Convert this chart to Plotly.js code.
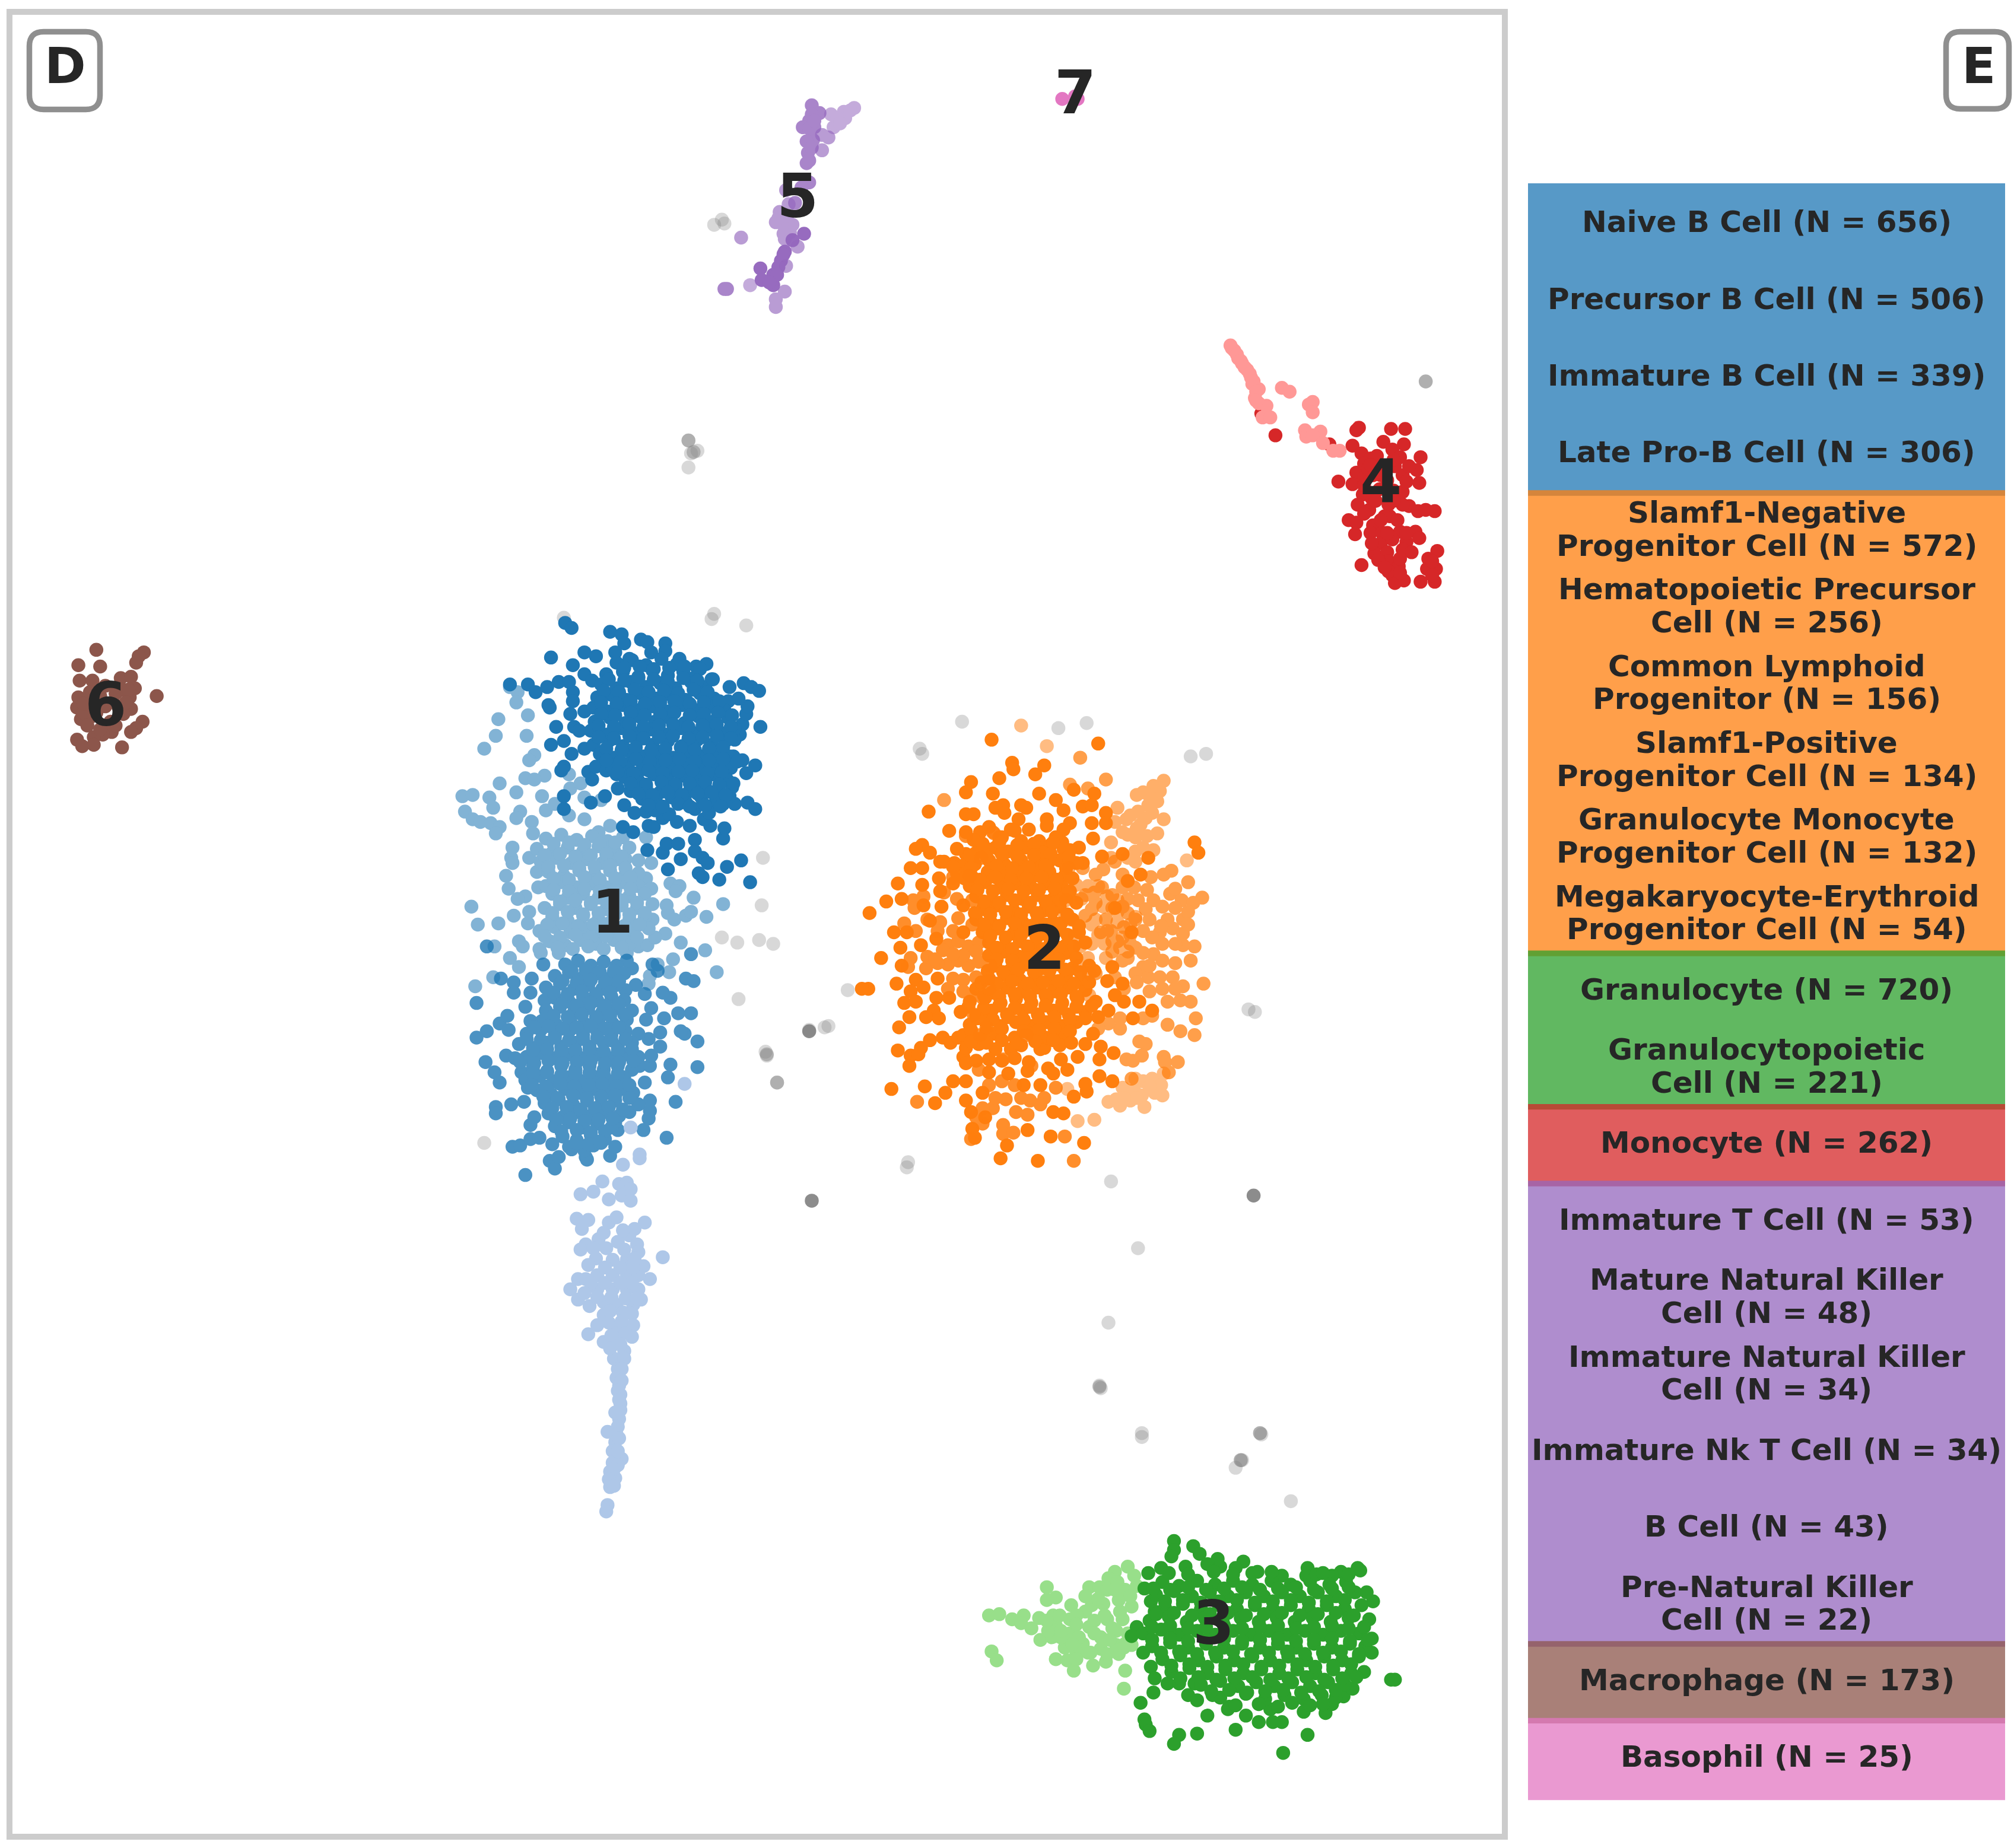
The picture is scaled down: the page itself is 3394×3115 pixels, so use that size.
<!DOCTYPE html>
<html><head><meta charset="utf-8">
<script src="https://cdn.plot.ly/plotly-3.0.1.min.js"></script>
<style>html,body{margin:0;padding:0;background:#fff}</style></head>
<body><div id="chart" style="width:3394px;height:3115px"></div>
<script>
// Embedding coordinates (arbitrary units, y grows downward)
const naiveB=[[440,485],[445,489],[475,492],[484,494],[486,501],[499,498],[504,500],[518,501],[518,507],[429,512],[446,518],[455,508],[464,511],[479,508],[490,513],[507,508],[529,513],[542,519],[550,517],[540,528],[554,529],[568,535],[579,532],[585,535],[591,538],[397,533],[411,533],[417,539],[426,535],[435,531],[443,531],[446,539],[446,546],[427,549],[428,551],[455,525],[461,530],[444,556],[433,566],[455,554],[447,566],[451,569],[429,580],[439,577],[445,587],[455,583],[439,597],[437,600],[458,601],[461,607],[464,597],[472,600],[480,603],[439,620],[439,630],[460,625],[471,620],[481,614],[486,627],[494,633],[503,632],[485,644],[493,648],[505,643],[509,644],[504,662],[516,664],[519,657],[528,657],[530,669],[520,677],[541,654],[541,663],[547,668],[551,672],[544,680],[547,683],[560,685],[566,675],[577,670],[584,687],[563,653],[564,645],[553,643],[537,643],[527,640],[516,637],[548,638],[563,626],[572,626],[582,625],[588,630],[581,602],[588,596],[578,592],[571,589],[592,566],[576,572],[572,576],[578,564],[581,556],[582,550],[575,544],[567,546],[559,547],
[480,516],[492,514],[503,518],[515,513],[527,517],[472,525],[485,523],[497,527],[508,522],[520,526],[532,523],[468,533],[480,536],[491,531],[503,535],[514,532],[526,536],[538,531],[549,535],[465,543],[476,541],[488,545],[499,540],[511,544],[522,541],[534,545],[545,540],[556,544],[462,551],[473,554],[485,549],[496,553],[508,550],[519,554],[531,549],[542,553],[553,550],[564,553],[463,562],[475,559],[487,563],[498,558],[510,562],[521,559],[533,563],[544,558],[555,562],[567,559],[460,569],[472,572],[484,567],[495,571],[507,568],[518,572],[530,567],[541,571],[552,568],[563,571],[572,567],[462,580],[474,577],[485,581],[497,576],[508,580],[520,577],[531,581],[543,576],[554,580],[565,577],[467,587],[478,590],[490,585],[501,589],[513,586],[524,590],[536,585],[547,589],[558,586],[568,589],[477,598],[489,595],[500,599],[512,594],[523,598],[535,595],[546,599],[557,594],[569,598],[486,605],[497,608],[509,603],[520,607],[532,604],[543,608],[555,603],[566,607],[491,616],[503,613],[514,617],[526,612],[537,616],[549,613],[560,617],[570,613],[500,622],[511,625],[523,621],[534,625],[546,621],[557,625],[568,620],[510,631],[521,634],[541,630],[552,633],
[486,520],[498,519],[509,521],[521,520],[533,519],[545,521],[474,529],[486,530],[497,528],[509,529],[520,531],[532,528],[543,530],[555,529],[470,538],[482,539],[494,537],[505,539],[517,538],[528,540],[540,537],[551,539],[468,547],[480,548],[491,546],[502,548],[514,547],[525,546],[537,548],[548,547],[560,546],[468,556],[479,557],[491,555],[502,557],[514,556],[525,555],[537,557],[548,556],[559,555],[570,557],[466,565],[478,566],[490,564],[501,566],[513,565],[524,564],[536,566],[547,565],[558,564],[569,566],[466,574],[478,575],[490,573],[501,575],[513,574],[524,573],[536,575],[547,574],[558,573],[569,575],[472,583],[484,584],[495,582],[507,584],[518,583],[530,582],[541,584],[552,583],[563,582],[472,592],[483,593],[495,591],[506,593],[518,592],[529,591],[541,593],[552,592],[563,591],[574,593],[481,601],[493,602],[505,600],[516,602],[528,601],[539,600],[551,602],[562,601],[491,610],[503,611],[515,609],[526,611],[537,610],[549,609],[560,611],[571,610],[497,618],[508,619],[520,617],[531,619],[543,618],[554,617],[565,619],[505,627],[516,628],[528,626],[537,628],[549,627],[561,628]];
const precursorB=[[397,535],[403,539],[402,547],[388,560],[411,557],[386,573],[377,583],[410,573],[416,588],[412,592],[424,604],[409,606],[416,607],[389,610],[402,617],[360,620],[368,619],[381,621],[384,629],[362,632],[368,638],[374,640],[382,641],[389,644],[386,649],[405,632],[402,637],[414,640],[415,649],[422,620],[425,631],[432,626],[443,635],[444,614],[452,610],[443,603],[455,621],[455,638],[468,623],[475,643],[466,648],[503,652],[399,660],[398,668],[399,672],[412,668],[394,682],[396,692],[409,698],[403,700],[419,691],[418,679],[367,706],[372,720],[388,719],[400,713],[385,737],[397,746],[404,753],[404,733],[407,737],[412,710],[411,719],[421,742],[420,739],[384,761],[370,768],[435,742],[507,672],[503,684],[507,692],[522,688],[529,690],[526,694],[540,699],[519,705],[520,711],[525,716],[534,713],[538,710],[550,714],[563,704],[530,734],[549,740],[518,727],[508,716],[524,747],[512,751],[521,757],[558,757],[506,760],[505,766],[497,670],[487,669],[497,737],[504,736],[510,730],[488,742],
[425,653],[437,650],[449,654],[461,651],[473,655],[485,652],[418,661],[430,664],[442,660],[454,663],[466,659],[478,662],[490,660],[421,671],[433,668],[445,672],[457,669],[469,672],[481,669],[427,679],[439,682],[451,678],[463,681],[475,678],[487,681],[497,680],[425,690],[437,687],[449,691],[461,688],[473,691],[485,687],[497,690],[430,696],[442,699],[454,696],[466,699],[478,695],[490,698],[502,696],[424,707],[436,704],[448,707],[460,704],[472,708],[484,705],[496,707],[508,704],[430,714],[442,717],[454,713],[466,716],[478,713],[490,716],[502,714],[420,725],[432,722],[444,726],[456,723],[468,726],[480,723],[492,726],[505,723],[428,733],[440,736],[452,732],[464,735],[478,732],[490,735],
[431,657],[443,656],[455,658],[467,657],[479,656],[424,666],[436,665],[448,667],[460,666],[472,665],[484,667],[427,675],[439,674],[451,676],[463,675],[475,674],[487,676],[431,684],[443,685],[455,683],[467,685],[479,684],[491,683],[431,693],[443,694],[455,692],[467,694],[479,693],[491,692],[436,702],[448,701],[460,703],[472,702],[484,701],[496,703],[430,711],[442,710],[454,712],[466,711],[478,710],[490,712],[502,711],[426,720],[438,719],[450,721],[462,720],[474,719],[486,721],[498,720],[424,729],[436,730],[448,728],[460,730],[472,729],[484,728],[496,730],[434,738],[446,739],[458,737],[470,739],[484,738]];
const immatureB=[[379,737],[423,751],[390,762],[400,765],[414,762],[413,773],[400,773],[371,781],[379,803],[371,808],[389,797],[395,791],[396,802],[409,784],[413,795],[424,779],[378,827],[385,835],[389,843],[394,822],[406,835],[401,824],[386,862],[386,867],[398,860],[408,858],[413,876],[411,847],[416,870],[399,893],[405,892],[413,887],[420,886],[409,915],[428,904],[432,910],[435,901],[430,891],[445,895],[456,901],[457,903],[468,890],[475,900],[479,893],[481,880],[479,874],[490,866],[501,880],[505,871],[519,886],[506,865],[506,857],[497,860],[526,858],[502,843],[520,839],[522,829],[543,831],[498,830],[506,830],[507,822],[514,815],[514,804],[505,809],[543,811],[533,805],[530,803],[517,793],[503,794],[528,789],[538,789],[507,785],[522,777],[516,773],[502,774],[495,767],[534,762],[540,764],[512,756],[508,751],[538,743],[492,754],[488,748],[487,771],
[440,751],[450,748],[460,752],[470,749],[480,752],[432,760],[443,757],[454,761],[465,758],[476,761],[486,758],[425,769],[436,766],[447,770],[458,767],[469,770],[480,767],[432,777],[443,780],[454,776],[465,779],[476,776],[486,779],[425,787],[436,784],[447,788],[458,785],[469,788],[480,785],[492,787],[422,795],[433,798],[444,794],[455,797],[466,794],[477,797],[488,794],[410,805],[421,802],[432,806],[443,803],[454,806],[465,803],[476,806],[487,803],[497,805],[404,813],[415,816],[426,812],[437,815],[448,812],[459,815],[470,812],[481,815],[492,812],[410,823],[421,820],[432,824],[443,821],[454,824],[465,821],[476,824],[487,821],[497,823],[415,831],[426,834],[437,830],[448,833],[459,830],[470,833],[481,830],[492,833],[409,841],[420,838],[431,842],[442,839],[453,842],[464,839],[475,842],[486,839],[418,849],[429,852],[440,848],[451,851],[462,848],[473,851],[484,848],[493,851],[424,859],[435,856],[446,860],[457,857],[468,860],[479,857],[427,867],[438,870],[449,866],[460,869],[471,866],[482,869],[432,877],[443,874],[454,878],[465,875],[476,878],[438,885],[449,888],[460,884],[471,887],[443,893],[455,896],[462,892],
[445,756],[456,755],[467,757],[478,756],[438,764],[449,765],[460,763],[471,765],[482,764],[431,773],[442,774],[453,772],[464,774],[475,773],[437,782],[449,783],[460,781],[471,783],[482,782],[431,791],[442,792],[453,790],[464,792],[475,791],[486,790],[416,800],[427,799],[438,801],[449,800],[460,799],[471,801],[482,800],[410,809],[421,810],[432,808],[443,810],[454,809],[465,808],[476,810],[487,809],[415,818],[426,817],[437,819],[448,818],[459,817],[470,819],[481,818],[492,817],[405,827],[416,828],[427,826],[438,828],[449,827],[460,826],[471,828],[482,827],[493,826],[415,836],[426,835],[437,837],[448,836],[459,835],[470,837],[481,836],[414,845],[425,846],[436,844],[447,846],[458,845],[469,844],[480,846],[490,845],[423,854],[434,855],[446,853],[457,855],[468,854],[479,853],[490,855],[430,863],[441,862],[452,864],[463,863],[474,862],[485,864],[433,872],[444,871],[455,873],[466,872],[477,871],[437,881],[449,880],[460,882],[471,881],[449,890],[458,891],[467,889]];
const lateProB=[[533,844],[491,878],[498,899],[485,907],[498,902],[469,920],[482,922],[488,921],[491,926],[484,931],[491,935],[474,934],[452,930],[462,928],[449,949],[458,950],[453,957],[474,952],[480,948],[502,952],[494,957],[490,962],[466,965],[481,967],[456,969],[452,973],[496,969],[497,975],[516,979],[501,986],[506,996],[450,996],[456,996],[444,1004],[450,1012],[459,1017],[499,1012],[464,980],[477,981],[488,981],[465,993],[477,993],[488,993],[497,993],[465,1004],[477,1004],[488,1004],[497,1004],[470,1014],[480,1016],[493,1016],[492,1023],[470,1024],[465,1032],[493,1032],[458,1039],[479,1035],[470,1045],[492,1041],[480,1044],[486,1052],[478,1058],[486,1058],[481,1066],[484,1066],[480,1073],[482,1079],[483,1086],[483,1093],[483,1098],[482,1105],[481,1111],[473,1115],[480,1117],[479,1123],[477,1130],[484,1136],[477,1139],[481,1141],[475,1146],[479,1151],[475,1158],[473,1172],[472,1177],
[470,960],[485,958],[462,972],[472,972],[486,973],[494,980],[458,985],[471,987],[483,987],[493,987],[460,999],[471,999],[483,999],[492,999],[455,1007],[465,1010],[476,1010],[487,1011],[496,1011],[475,1021],[485,1022],[474,1030],[484,1029],[487,1038],[476,1040],[483,1047],[475,1050],[484,1075],[481,1083],[482,1090],[479,1100],[482,1120],[481,1130],[478,1144],[474,1152],[478,1157]];

const slamf1Neg=[[772,576],[855,579],[788,594],[789,599],[813,596],[806,603],[756,609],[778,606],[752,617],[773,618],[836,615],[852,618],[723,632],[752,634],[758,634],[775,629],[781,627],[782,633],[795,627],[799,629],[809,618],[815,638],[822,623],[828,631],[833,641],[843,628],[850,627],[861,633],[850,641],[861,641],[739,647],[752,648],[763,648],[778,652],[793,638],[787,646],[801,646],[809,655],[818,658],[827,656],[840,660],[851,653],[718,658],[713,661],[724,664],[709,676],[718,676],[732,671],[743,672],[752,665],[759,673],[768,661],[779,663],[791,661],[806,663],[816,672],[833,662],[858,667],[843,672],[874,665],[894,668],[930,656],[933,664],[888,681],[878,686],[699,688],[718,689],[731,684],[732,694],[742,688],[753,683],[690,702],[677,711],[702,700],[719,705],[733,706],[750,705],[773,706],[724,717],[696,726],[706,726],[729,731],[750,726],[701,738],[717,736],[686,746],[702,752],[730,762],[713,763],[698,766],[719,769],[676,770],[671,770],[709,772],[729,777],[739,777],[704,781],[713,780],[708,792],[727,787],[721,792],[731,793],[700,800],[724,810],[734,808],[699,818],[717,816],[709,822],[708,830],[715,821],[740,812],[746,808],[750,823],[694,848],[720,846],[728,859],[736,851],[742,842],[752,828],[760,826],[752,842],[752,857],[765,851],[756,866],[767,870],[757,879],[759,886],[779,902],[784,892],[800,880],[808,904],[818,885],[820,866],[828,867],[844,890],[836,854],[846,850],[845,844],[810,845],[797,845],[856,838],[866,842],[867,820],[856,825],[857,815],[845,813],[839,823],[831,833],[826,825],[816,832],[820,836],[801,827],[813,816],[787,817],[851,805],[855,792],[863,787],[882,793],[897,787],[887,780],[875,780],[868,775],[874,766],[862,764],[866,753],[881,726],[868,707],
[770,644],[790,647],[815,643],[828,646],[758,654],[780,652],[795,655],[822,652],[745,661],[760,664],[775,660],[785,663],[798,660],[812,664],[828,661],[735,671],[750,674],[770,670],[782,673],[795,670],[808,673],[825,670],[838,672],[745,680],[757,683],[769,679],[781,682],[793,679],[805,682],[817,679],[829,682],[755,690],[767,687],[779,691],[791,688],[803,691],[815,688],[827,691],[760,698],[772,701],[784,697],[796,700],[808,697],[820,700],[832,698],[765,708],[777,705],[789,709],[801,706],[813,709],[825,706],[760,716],[772,719],[784,715],[796,718],[808,715],[820,718],[835,716],[765,726],[777,723],[789,727],[801,724],[813,727],[825,724],[840,726],[770,734],[782,737],[794,733],[806,736],[818,733],[830,736],[845,734],[770,744],[782,741],[794,745],[806,742],[818,745],[830,742],[775,752],[787,755],[799,751],[811,754],[823,751],[835,754],[848,752],[770,762],[782,759],[794,763],[806,760],[818,763],[830,760],[842,763],[760,770],[772,773],[784,769],[796,772],[808,769],[820,772],[832,769],[845,771],[755,780],[767,777],[779,781],[791,778],[803,781],[815,778],[827,781],[839,778],[853,780],[748,788],[760,791],[772,787],[784,790],[796,787],[808,790],[820,787],[832,790],[845,788],[755,798],[767,795],[779,799],[791,796],[803,799],[815,796],[827,799],[838,796],[750,806],[762,809],[774,805],[790,808],[802,805],[814,808],[828,806],[752,816],[762,813],[775,817],[795,814],[810,817],[825,814],
[765,657],[778,656],[792,658],[805,657],[820,656],[755,666],[768,667],[780,665],[792,667],[805,666],[818,665],[832,667],[742,675],[756,676],[776,674],[788,676],[801,675],[814,674],[830,676],[751,684],[763,685],[775,683],[787,685],[799,684],[811,683],[823,685],[835,684],[761,693],[773,694],[785,692],[797,694],[809,693],[821,692],[833,694],[766,702],[778,703],[790,701],[802,703],[814,702],[826,701],[838,703],[759,711],[771,712],[783,710],[795,712],[807,711],[819,710],[831,712],[766,720],[778,721],[790,719],[802,721],[814,720],[826,719],[840,721],[771,729],[783,730],[795,728],[807,730],[819,729],[831,728],[776,738],[788,739],[800,737],[812,739],[824,738],[836,737],[776,747],[788,748],[800,746],[812,748],[824,747],[838,746],[769,756],[781,757],[793,755],[805,757],[817,756],[829,755],[841,757],[852,756],[764,765],[776,766],[788,764],[800,766],[812,765],[824,764],[836,766],[848,765],[766,775],[778,776],[790,774],[802,776],[814,775],[826,774],[838,776],[754,784],[766,785],[778,783],[790,785],[802,784],[814,783],[826,785],[838,784],[850,783],[761,793],[773,794],[785,792],[797,794],[809,793],[821,792],[833,794],[845,793],[756,802],[768,803],[780,801],[797,803],[809,802],[821,801],[833,803],[756,811],[768,812],[780,810],[792,812],[806,811],[820,810],[834,812],[770,825],[780,826],[790,824],[770,835],[785,836],[800,834]];
const hematoPrecursor=[[757,701],[746,715],[738,736],[746,733],[754,737],[762,734],[760,741],[738,751],[746,748],[754,752],[762,749],[771,752],[750,763],[760,761],[769,764],[756,776],[765,777],[719,698],[711,701],[712,707],[704,719],[713,725],[722,716],[732,718],[734,740],[721,754],[709,746],[707,753],[722,745],[752,651],[773,648],[764,668],[755,682],[742,683],[748,788],[763,806],[799,806],[781,825],[803,830],[762,833],[780,842],[822,847],[783,856],[791,866],[800,868],[773,863],[765,863],[781,876],[781,883],[789,882],[829,885],[836,904],[714,858],[756,887],[802,857],[813,855],
[730,725],[742,725],[730,750],[742,762],[728,747],[738,770],[750,772],[757,720],[745,700],[735,695],[770,770],[758,790],[768,800],[770,845],[790,845],[775,855],[795,855],[810,860],[765,875],[760,870],[750,744],[742,743]];
const commonLymphoid=[[858,691],[845,697],[853,703],[837,701],[845,713],[861,716],[874,706],[884,716],[857,726],[870,733],[884,738],[898,743],[878,746],[890,753],[903,761],[913,761],[921,768],[937,766],[927,748],[930,737],[921,736],[913,723],[903,726],[921,716],[909,716],[898,701],[911,696],[915,692],[886,701],[920,701],[936,699],[929,703],[925,687],[912,678],[906,681],[896,683],[893,693],[874,681],[883,691],[904,721],[921,727],[931,793],[927,780],[919,779],[909,780],[930,806],[919,803],[909,798],[897,791],[890,793],[872,793],[872,801],[863,797],[855,801],[887,811],[892,813],[889,822],[877,825],[882,826],[906,823],[917,827],[907,827],[881,840],[910,835],[861,607],[841,590],[735,623],[833,611],[847,614],[774,649],[859,677],[868,671],[874,691],[853,681],[843,676],[880,728],[866,741],[874,748],[866,733],[853,758],[868,761],[884,758],[894,761],
[852,695],[866,697],[878,700],[850,708],[866,707],[878,711],[892,708],[905,706],[915,707],[925,710],[895,716],[890,725],[897,730],[905,735],[915,735],[925,720],[875,722],[865,725],[880,735],[890,742],[905,748],[915,750],[895,752],[885,765],[875,770],[905,770],[895,772],[915,770]];
const slamf1Pos=[[906,608],[903,616],[890,617],[885,619],[894,627],[901,624],[870,629],[877,638],[886,632],[892,637],[906,638],[888,642],[874,648],[884,652],[901,649],[893,651],[898,662],[884,663],[884,671],[865,656],[865,668],[832,676],[838,689],[830,701],[829,712],[833,716],[837,728],[841,737],[840,752],[848,758],[848,775],[855,728],[874,730],[870,718],[874,706],[884,714],[859,706],[853,716],[847,746],[861,746],[878,741],[870,701],
[898,612],[895,620],[880,635],[897,633],[885,645],[878,650],[868,640],[890,660],[878,668],[847,690],[842,700],[855,690],[862,698],[850,720],[862,725],[870,710],[880,720],[860,735],[850,735],[872,738]];
const granMonoProg=[[795,565],[815,581],[924,670],[863,858],[872,861],[880,850],[890,842],[897,840],[905,853],[891,862],[889,853],[880,857],[899,851],[906,836],[874,847],[839,873],[852,872],[831,848],[883,849],[869,856],[904,845],[885,855],[895,846],[875,855],[884,840]];

const granulocyte=[[914,1200],[914,1207],[929,1204],[934,1210],[912,1212],[948,1214],[968,1216],[962,1221],[979,1224],[998,1227],[1018,1221],[1017,1227],[1057,1221],[1044,1224],[1037,1227],[894,1225],[904,1221],[923,1220],[940,1218],[950,1220],[891,1237],[896,1247],[899,1255],[885,1267],[881,1274],[890,1287],[896,1298],[899,1307],[909,1311],[918,1311],[930,1311],[898,1318],[888,1326],[925,1320],[932,1324],[944,1320],[957,1329],[956,1331],[940,1336],[891,1339],[892,1343],[895,1348],[918,1351],[914,1358],[932,1350],[962,1347],[970,1336],[980,1341],[989,1331],[991,1341],[998,1341],[1018,1351],[999,1365],[1006,1326],[1015,1333],[1032,1334],[1037,1327],[1046,1321],[1053,1315],[1062,1302],[1083,1308],[1086,1308],[1068,1287],[1068,1276],[1066,1261],[1069,1247],[1064,1240],[1059,1223],
[905,1232],[918,1235],[932,1231],[946,1234],[960,1231],[975,1234],[990,1231],[1005,1234],[1020,1231],[1035,1234],[1048,1232],[900,1242],[914,1239],[928,1243],[942,1240],[956,1243],[970,1240],[984,1243],[998,1240],[1012,1243],[1026,1240],[1040,1243],[1055,1240],[907,1252],[921,1249],[935,1253],[949,1250],[963,1253],[977,1250],[991,1253],[1005,1250],[1019,1253],[1033,1250],[1047,1253],[1060,1250],[895,1262],[910,1259],[924,1263],[938,1260],[952,1263],[966,1260],[980,1263],[994,1260],[1008,1263],[1022,1260],[1036,1263],[1050,1260],[890,1272],[904,1269],[918,1273],[932,1270],[946,1273],[960,1270],[974,1273],[988,1270],[1002,1273],[1016,1270],[1030,1273],[1044,1270],[1058,1272],[897,1282],[911,1279],[925,1283],[939,1280],[953,1283],[967,1280],[981,1283],[995,1280],[1009,1283],[1023,1280],[1037,1283],[1051,1280],[1063,1282],[905,1292],[919,1289],[933,1293],[947,1290],[961,1293],[975,1290],[989,1293],[1003,1290],[1017,1293],[1031,1290],[1045,1293],[1058,1290],[912,1302],[926,1299],[940,1303],[954,1300],[968,1303],[982,1300],[996,1303],[1010,1300],[1024,1303],[1038,1300],[1052,1303],[935,1312],[950,1309],[964,1313],[978,1310],[992,1313],[1006,1310],[1020,1313],[1034,1310],[1047,1312],[950,1322],[970,1319],[985,1323],[1000,1320],[1015,1323],[1029,1320],[1040,1322],
[898,1237],[911,1238],[925,1236],[939,1238],[953,1237],[967,1236],[981,1238],[995,1237],[1009,1236],[1023,1238],[1037,1237],[1050,1236],[907,1247],[921,1246],[935,1248],[949,1247],[963,1246],[977,1248],[991,1247],[1005,1246],[1019,1248],[1033,1247],[1047,1246],[900,1257],[914,1256],[928,1258],[942,1257],[956,1256],[970,1258],[984,1257],[998,1256],[1012,1258],[1026,1257],[1040,1256],[1054,1258],[897,1267],[911,1266],[925,1268],[939,1267],[953,1266],[967,1268],[981,1267],[995,1266],[1009,1268],[1023,1267],[1037,1266],[1050,1268],[1062,1267],[897,1277],[911,1276],[925,1278],[939,1277],[953,1276],[967,1278],[981,1277],[995,1276],[1009,1278],[1023,1277],[1037,1276],[1051,1278],[1065,1277],[904,1287],[918,1286],[932,1288],[946,1287],[960,1286],[974,1288],[988,1287],[1002,1286],[1016,1288],[1030,1287],[1044,1286],[1058,1288],[912,1297],[926,1296],[940,1298],[954,1297],[968,1296],[982,1298],[996,1297],[1010,1296],[1024,1298],[1038,1297],[1052,1296],[919,1307],[933,1306],[947,1308],[961,1307],[975,1306],[989,1308],[1003,1307],[1017,1306],[1031,1308],[1045,1307],[1056,1306],[943,1317],[957,1316],[971,1318],[985,1317],[999,1316],[1013,1318],[1027,1317],[1040,1316],[962,1328],[980,1327],[995,1329],[1020,1328],[1030,1327],[910,1225],[925,1226],[945,1224],[960,1226],[975,1225],[990,1224],[1025,1226],[1030,1225],[1050,1226]];
const granulocytopoietic=[[770,1258],[778,1257],[788,1261],[797,1258],[795,1264],[809,1260],[803,1268],[815,1236],[822,1244],[815,1246],[772,1286],[776,1293],[820,1258],[810,1277],[822,1292],[831,1293],[836,1301],[851,1297],[847,1287],[861,1294],[871,1288],[876,1301],[875,1315],[881,1281],[878,1220],[868,1224],[863,1229],[883,1227],[848,1236],[856,1236],[881,1251],[874,1261],[834,1250],[845,1243],[862,1238],[876,1238],[885,1235],[822,1266],[833,1261],[845,1255],[859,1249],[871,1246],[819,1275],[833,1272],[848,1267],[862,1261],[829,1283],[843,1280],[857,1275],[869,1270],[838,1287],[857,1284],[869,1281],
[838,1258],[850,1250],[860,1258],[872,1255],[880,1243],[870,1232],[826,1275],[838,1265],[852,1262],[866,1268],[878,1272],[826,1270],[840,1275],[852,1272],[864,1277],[876,1280],[835,1280],[849,1287],[862,1288],[875,1283],[816,1270],[815,1262],[825,1258],[868,1238],[855,1245],[838,1292]];

const monocyteA=[[993,339],[1035,346],[982,322],[1058,333],[1056,335],[1083,334],[1094,334],[1077,344],[1093,346],[1084,350],[1053,347],[1106,356],[1060,353],[1067,357],[1090,356],[1103,366],[1042,375],[1056,368],[1105,376],[1053,377],[1092,370],[1069,370],[1080,374],[1061,385],[1092,383],[1057,393],[1066,397],[1081,393],[1097,394],[1104,398],[1110,397],[1117,398],[1082,402],[1092,393],[1050,405],[1056,407],[1055,416],[1069,409],[1067,415],[1076,415],[1090,414],[1102,414],[1105,419],[1075,423],[1084,420],[1095,422],[1070,431],[1080,430],[1092,428],[1099,430],[1060,440],[1081,437],[1089,441],[1119,429],[1112,435],[1118,443],[1111,443],[1084,448],[1093,452],[1086,454],[1106,453],[1117,453],[1115,448],[1062,361],[1075,362],[1086,363],[1097,363],[1062,372],[1074,381],[1085,382],[1068,388],[1078,402],[1073,436],
[1065,365],[1072,355],[1085,358],[1095,375],[1085,390],[1071,390],[1075,405],[1062,400],[1088,405],[1080,415],[1090,435],[1081,445],[1068,423],[1095,415],[1062,378],[1075,370],[1067,362],[1078,442],[1090,446],[1115,437]];
const monocyteB=[[958,269],[961,273],[964,279],[967,283],[971,288],[974,294],[975,299],[980,303],[977,310],[980,314],[986,316],[983,325],[989,325],[998,302],[1004,305],[1022,313],[1019,315],[1022,321],[1016,335],[1017,340],[1028,336],[1022,339],[1030,345],[1038,351],[1043,351],[959,271],[963,276],[966,281],[969,286],[973,291],[976,297],[978,305],[978,312]];

const immatureT=[[611,196],[608,203],[606,208],[592,209],[602,214],[593,218],[602,222],[626,182],[617,187],[605,214],[599,220],[610,198]];
const matureNK=[[632,82],[638,88],[632,89],[630,94],[625,99],[634,99],[633,109],[629,119],[628,127],[630,142],[619,158],[566,225],[564,225],[624,146],[630,100],[634,94],[628,110],[632,115],[630,125]];
const immatureNK=[[612,148],[614,159],[607,165],[604,173],[610,175],[617,175],[615,181],[611,186],[621,192],[612,207],[577,185],[611,227],[604,233],[604,239],[640,105],[645,107],[640,117],[606,170],[613,168],[610,182]];
const preNK=[[665,84],[657,87],[647,89],[658,92],[649,99],[584,222],[652,92],[662,86],[654,96]];

const macrophage=[[75,506],[112,508],[108,511],[106,516],[61,518],[78,519],[62,530],[72,530],[94,528],[102,527],[105,536],[95,537],[101,543],[61,543],[122,542],[60,551],[68,547],[102,552],[63,560],[71,558],[86,562],[111,562],[106,567],[102,570],[87,570],[80,572],[73,574],[60,576],[64,581],[73,580],[95,582],[82,550],[92,550],[82,534],[96,556],[71,548],[70,539],[65,555],[75,555],[68,565],[65,548],[78,542],[90,540],[100,537],[78,568],[90,565],[98,547]];
const basophil=[[827,77],[837,75],[839,77]];

const unlabeledLight=[[439,481],[556,478],[554,482],[581,487],[594,668],[593,705],[562,730],[574,734],[591,732],[602,735],[575,778],[630,802],[642,800],[645,799],[596,819],[597,822],[605,843],[377,890],[562,171],[556,175],[564,174],[536,343],[543,351],[538,353],[536,364],[749,562],[824,567],[846,563],[716,583],[718,587],[927,589],[939,587],[660,771],[972,786],[977,788],[707,905],[706,909],[865,920],[886,972],[863,1030],[856,1079],[857,1081],[889,1116],[889,1119],[981,1116],[982,1117],[966,1137],[967,1137],[962,1143],[1005,1169],[1110,297]];
const unlabeledMid=[[1110,297],[597,821],[856,1080],[981,1116],[966,1137],[605,843],[540,352],[536,343]];
const unlabeledDark=[[630,803],[632,935],[976,931]];

const clusterIds=['1','2','3','4','5','6','7'];
const clusterX=[477,813,945,1075,621,82,837];
const clusterY=[710,738,1264,375,153,549,72];

const groupRows=[4,6,2,1,6,1,1];
const groupColors=['#1f77b4','#ff7f0e','#2ca02c','#d62728','#9467bd','#8c564b','#e377c2'];
const rowLabels=[
 ['Naive B Cell (N = 656)'],['Precursor B Cell (N = 506)'],['Immature B Cell (N = 339)'],['Late Pro-B Cell (N = 306)'],
 ['Slamf1-Negative','Progenitor Cell (N = 572)'],['Hematopoietic Precursor','Cell (N = 256)'],['Common Lymphoid','Progenitor (N = 156)'],['Slamf1-Positive','Progenitor Cell (N = 134)'],['Granulocyte Monocyte','Progenitor Cell (N = 132)'],['Megakaryocyte-Erythroid','Progenitor Cell (N = 54)'],
 ['Granulocyte (N = 720)'],['Granulocytopoietic','Cell (N = 221)'],
 ['Monocyte (N = 262)'],
 ['Immature T Cell (N = 53)'],['Mature Natural Killer','Cell (N = 48)'],['Immature Natural Killer','Cell (N = 34)'],['Immature Nk T Cell (N = 34)'],['B Cell (N = 43)'],['Pre-Natural Killer','Cell (N = 22)'],
 ['Macrophage (N = 173)'],
 ['Basophil (N = 25)']];

const W=3394,H=3115,TXT='#262626',FONT='"DejaVu Sans", sans-serif';
const px=v=>v/W, py=v=>1-v/H;
function pts(name,arr,color,opacity){
  return {type:'scatter',mode:'markers',name,x:arr.map(p=>p[0]),y:arr.map(p=>p[1]),xaxis:'x',yaxis:'y',
    opacity,marker:{color,size:23.5,line:{width:0}},hoverinfo:'skip',showlegend:false};
}
function gray(name,arr,a){
  return {type:'scatter',mode:'markers',name,x:arr.map(p=>p[0]),y:arr.map(p=>p[1]),xaxis:'x',yaxis:'y',
    marker:{color:'#7f7f7f',opacity:a,size:23.5,line:{width:0}},hoverinfo:'skip',showlegend:false};
}
const traces=[
  gray('unlabeledLight',unlabeledLight,0.3),gray('unlabeledMid',unlabeledMid,0.45),gray('unlabeledDark',unlabeledDark,0.9),
  pts('Immature B',immatureB,'#1f77b4',0.8),
  pts('Precursor B',precursorB,'#1f77b4',0.56),
  pts('Naive B',naiveB,'#1f77b4',1),
  pts('Late Pro-B',lateProB,'#aec7e8',1),
  pts('Common Lymphoid',commonLymphoid,'#ff7f0e',0.75),
  pts('Slamf1-Negative',slamf1Neg,'#ff7f0e',1),
  pts('Hematopoietic Precursor',hematoPrecursor,'#ff7f0e',0.88),
  pts('Slamf1-Positive',slamf1Pos,'#ff7f0e',0.62),
  pts('Granulocyte Monocyte Progenitor',granMonoProg,'#ff7f0e',0.52),
  pts('Granulocytopoietic',granulocytopoietic,'#98df8a',1),
  pts('Granulocyte',granulocyte,'#2ca02c',1),
  pts('Monocyte',monocyteA,'#d62728',1),
  pts('Monocyte tail',monocyteB,'#ff9896',1),
  pts('Pre-NK',preNK,'#9467bd',0.55),
  pts('Immature NK',immatureNK,'#9467bd',0.65),
  pts('Mature NK',matureNK,'#9467bd',0.8),
  pts('Immature T',immatureT,'#9467bd',0.97),
  pts('Macrophage',macrophage,'#8c564b',1),
  pts('Basophil',basophil,'#e377c2',1)
];
// Side panel: one bar per cell-type group, spanning its label rows
const seam=0.036;
let start=0;
groupRows.forEach((n,i)=>{
  traces.push({type:'bar',x:[0.5],y:[n+2*seam],base:[start-seam],width:[1],xaxis:'x2',yaxis:'y2',opacity:0.75,
    marker:{color:groupColors[i],line:{width:0}},hoverinfo:'skip',showlegend:false});
  start+=n;
});
const annotations=[];
clusterIds.forEach((t,i)=>annotations.push({text:'<b>'+t+'</b>',x:clusterX[i],y:clusterY[i],xref:'x',yref:'y',showarrow:false,
  xanchor:'center',yanchor:'middle',font:{family:FONT,size:101,color:TXT}}));
rowLabels.forEach((lines,r)=>{
  lines.forEach((t,k)=>{
    const off=lines.length===2?(k===0?-0.215:0.215):0;
    annotations.push({text:'<b>'+t+'</b>',x:0.5,y:r+0.5-0.03+off,xref:'x2',yref:'y2',showarrow:false,xanchor:'center',yanchor:'middle',
      font:{family:FONT,size:50,color:TXT}});
  });
});
[['D',110,111],['E',3334,111]].forEach(a=>annotations.push({text:'<b>'+a[0]+'</b>',x:px(a[1]),y:py(a[2]),xref:'paper',yref:'paper',showarrow:false,
  xanchor:'center',yanchor:'middle',font:{family:FONT,size:84,color:TXT}}));
function roundBox(x0,y0,x1,y1,r){
  const P=(x,y)=>px(x)+','+py(y);
  return {type:'path',xref:'paper',yref:'paper',layer:'above',line:{color:'#8f8f8f',width:9.5},fillcolor:'rgba(255,255,255,1)',
    path:'M'+P(x0+r,y0)+' L'+P(x1-r,y0)+' Q'+P(x1,y0)+' '+P(x1,y0+r)+' L'+P(x1,y1-r)+' Q'+P(x1,y1)+' '+P(x1-r,y1)+
         ' L'+P(x0+r,y1)+' Q'+P(x0,y1)+' '+P(x0,y1-r)+' L'+P(x0,y0+r)+' Q'+P(x0,y0)+' '+P(x0+r,y0)+' Z'};
}
const hiddenAxis={showgrid:false,zeroline:false,showticklabels:false,ticks:'',fixedrange:true};
const layout={
  width:W,height:H,margin:{l:0,r:0,t:0,b:0,pad:0},paper_bgcolor:'#fff',plot_bgcolor:'#fff',showlegend:false,barmode:'overlay',
  xaxis:Object.assign({},hiddenAxis,{domain:[px(21),px(2531)],range:[9.7,1169.3],showline:true,mirror:true,linecolor:'#cccccc',linewidth:10,anchor:'y'}),
  yaxis:Object.assign({},hiddenAxis,{domain:[py(3091),py(25)],range:[1428,11.5],showline:true,mirror:true,linecolor:'#cccccc',linewidth:10,anchor:'x'}),
  xaxis2:Object.assign({},hiddenAxis,{domain:[px(2575),px(3379)],range:[0,1],anchor:'y2'}),
  yaxis2:Object.assign({},hiddenAxis,{domain:[py(3055.5),py(287.8)],range:[21.2,-0.2],anchor:'x2'}),
  shapes:[roundBox(49.5,53.5,168.5,184.5,24),roundBox(3279.5,53.5,3385.5,183.5,24)],
  annotations
};
Plotly.newPlot('chart',traces,layout,{displayModeBar:false,staticPlot:true});
</script></body></html>
